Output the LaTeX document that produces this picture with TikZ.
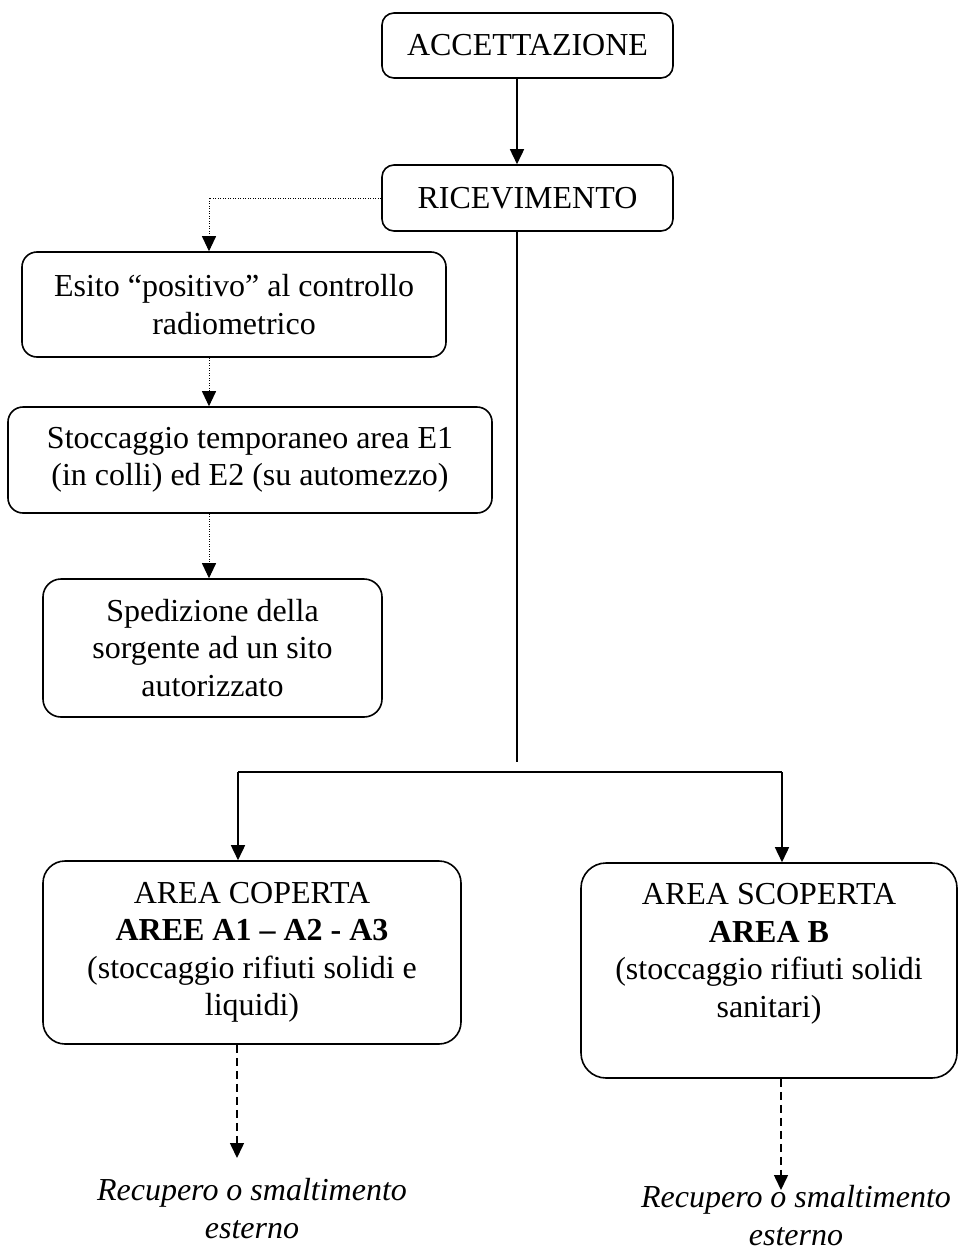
\documentclass[tikz,border=0pt]{standalone}
\usepackage{fontspec}
\setmainfont{Liberation Serif}
\usetikzlibrary{arrows.meta,calc}
\tikzset{
  bx/.style={draw, line width=1.6pt, rounded corners=13pt, align=center, inner sep=0pt,
    font=\fontsize{32}{37.5}\selectfont},
  txt/.style={align=center, inner sep=0pt, font=\fontsize{32}{37.5}\selectfont},
  itxt/.style={align=center, inner sep=0pt, font=\fontsize{32}{37.5}\selectfont\itshape},
  arr/.style={line width=1.6pt, -{Triangle[width=14pt,length=15pt]}},
  solidline/.style={line width=1.6pt},
  dotarr/.style={line width=1pt, dash pattern=on 1pt off 1.5pt, -{Triangle[width=14pt,length=15pt]}},
  dasharr/.style={line width=1.5pt, dash pattern=on 8pt off 5pt, -{Triangle[width=14pt,length=15pt]}}
}
\begin{document}
\begin{tikzpicture}[x=1pt,y=-1pt]
\useasboundingbox (0,0) rectangle (968,1250);
\node[bx, minimum width=291pt, minimum height=65pt, rounded corners=12pt] (acc) at (527.5,45.5) {ACCETTAZIONE};
\node[bx, minimum width=291pt, minimum height=66pt, rounded corners=12pt] (ric) at (527.5,198) {RICEVIMENTO};
\node[bx, minimum width=424pt, minimum height=105pt, rounded corners=15pt] (esi) at (234,304.5) {Esito “positivo” al controllo\\radiometrico};
\node[bx, minimum width=484pt, minimum height=106pt, rounded corners=15pt] (sto) at (250,460) {Stoccaggio temporaneo area E1\\(in colli) ed E2 (su automezzo)};
\node[bx, minimum width=339pt, minimum height=138pt, rounded corners=18pt] (spe) at (212.5,648) {Spedizione della\\sorgente ad un sito\\autorizzato};
\node[bx, minimum width=418pt, minimum height=183pt, rounded corners=22pt] (cop) at (252,952.5) {AREA COPERTA\\\textbf{AREE A1 – A2 - A3}\\(stoccaggio rifiuti solidi e\\liquidi)};
\node[bx, minimum width=376pt, minimum height=215pt, rounded corners=25pt] (scop) at (769,970.5) {};
\node[txt] (scoptxt) at (769,954) {AREA SCOPERTA\\\textbf{AREA B}\\(stoccaggio rifiuti solidi\\sanitari)};
\node[itxt, anchor=base] (rec1) at (252,1238) {Recupero o smaltimento\\esterno};
\node[itxt, anchor=base] (rec2) at (796,1245) {Recupero o smaltimento\\esterno};

\coordinate (dx) at (209,0);
\coordinate (mx) at (517,0);
\coordinate (jend) at (517,762);
\coordinate (hl) at (238,772);
\coordinate (hr) at (782,772);
\coordinate (d1) at (237,1158);
\coordinate (d2) at (781,1190);

\draw[arr] (acc.south -| mx) -- (ric.north -| mx);
\draw[dotarr] (ric.west) -| (esi.north -| dx);
\draw[dotarr] (esi.south -| dx) -- (sto.north -| dx);
\draw[dotarr] (sto.south -| dx) -- (spe.north -| dx);
\draw[solidline] (ric.south -| mx) -- (jend);
\draw[solidline] (hl) -- (hr);
\draw[arr] (hl) -- (cop.north -| hl);
\draw[arr] (hr) -- (scop.north -| hr);
\draw[dasharr] (cop.south -| d1) -- (d1);
\draw[dasharr] (scop.south -| d2) -- (d2);
\end{tikzpicture}
\end{document}
